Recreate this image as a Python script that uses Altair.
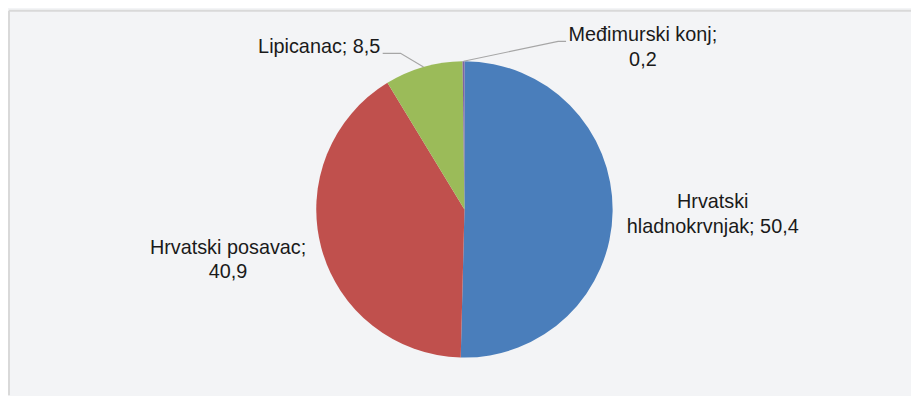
import math
import altair as alt
import pandas as pd

# ---- data ----
categories = ["Hrvatski hladnokrvnjak", "Hrvatski posavac", "Lipicanac", "Međimurski konj"]
values = [50.4, 40.9, 8.5, 0.2]
label_lines = [
    ["Hrvatski", "hladnokrvnjak; 50,4"],
    ["Hrvatski posavac;", "40,9"],
    ["Lipicanac; 8,5"],
    ["Međimurski konj;", "0,2"],
]
colors = ["#4A7EBB", "#C0504D", "#9BBB59", "#8064A2"]

# ---- layout ----
W, H = 911, 388
CX, CY, R = 459.5, 200.5, 149.5
FONT = "Liberation Sans, Arial"
FS = 20
BG = "#F3F4F6"

# label anchor positions (layout; baseline of first line)
label_pos = [(710, 199), (221, 245), (313, 43), (639.5, 31)]

pie_df = pd.DataFrame({"cat": categories, "val": values, "ord": list(range(len(values)))})

pie = alt.Chart(pie_df).mark_arc(outerRadius=R).encode(
    theta=alt.Theta("val:Q", stack=True),
    color=alt.Color("cat:N", scale=alt.Scale(domain=categories, range=colors), legend=None),
    order=alt.Order("ord:Q"),
    x=alt.value(CX),
    y=alt.value(CY),
)

shadow = alt.Chart(pd.DataFrame({"v": [1]})).mark_arc(
    outerRadius=R + 1, color="#000000", opacity=0.06
).encode(theta=alt.Theta("v:Q"), x=alt.value(CX), y=alt.value(CY + 3))

# text labels
rows = []
for i, lines in enumerate(label_lines):
    rows.append({"x": label_pos[i][0], "y": label_pos[i][1], "t": "\n".join(lines), "cat": categories[i]})
text_df = pd.DataFrame(rows)
texts = alt.Chart(text_df).mark_text(
    font=FONT, fontSize=FS, color="#1A1A1A", align="center", baseline="alphabetic",
    lineBreak="\n", lineHeight=25,
).encode(
    x=alt.X("x:Q", scale=None), y=alt.Y("y:Q", scale=None), text="t:N"
)

# leader lines for the two small slices, from slice mid-angle to the label
cum = 0.0
mids = []
total = sum(values)
for v in values:
    mids.append((cum + v / 2) / total * 2 * math.pi)
    cum += v
lead_rows = []
a = mids[2]
p = (CX + R * math.sin(a), CY - R * math.cos(a))
lead_rows += [
    {"id": "lip", "k": 0, "x": p[0], "y": p[1]},
    {"id": "lip", "k": 1, "x": 395, "y": 43},
    {"id": "lip", "k": 2, "x": 377, "y": 43},
]
a = mids[3]
p = (CX + R * math.sin(a), CY - R * math.cos(a))
lead_rows += [
    {"id": "med", "k": 0, "x": p[0], "y": p[1]},
    {"id": "med", "k": 1, "x": 554, "y": 31},
    {"id": "med", "k": 2, "x": 562, "y": 31},
]
lead_df = pd.DataFrame(lead_rows)
leads = alt.Chart(lead_df).mark_line(color="#A6A6A6", strokeWidth=1.2).encode(
    x=alt.X("x:Q", scale=None), y=alt.Y("y:Q", scale=None), detail="id:N", order="k:Q"
)

border = alt.Chart(pd.DataFrame({"v": [0]})).mark_rule(color="#D9D9D9", strokeWidth=2).encode(
    x=alt.value(0), y=alt.value(0), x2=alt.value(W)
)
border2 = alt.Chart(pd.DataFrame({"v": [0]})).mark_rule(color="#D9D9D9", strokeWidth=2).encode(
    x=alt.value(0), y=alt.value(0), y2=alt.value(H)
)

chart = alt.layer(shadow, pie, leads, texts, border, border2).properties(
    width=W, height=H,
    autosize=alt.AutoSizeParams(type="fit", contains="padding"),
    padding=0,
    background=BG,
).configure_view(stroke=None)

chart.save("out.html", embed_options={"renderer": "svg", "actions": False})
